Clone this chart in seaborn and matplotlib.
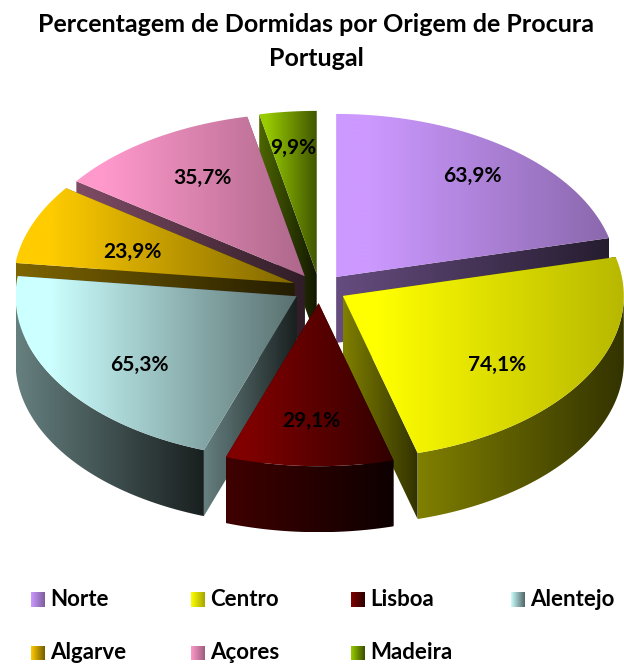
import numpy as np
import matplotlib
matplotlib.use("Agg")
import matplotlib.pyplot as plt
from matplotlib.patches import Polygon
import seaborn as sns

# ---- data -------------------------------------------------------------
TITLE = ["Percentagem de Dormidas por Origem de Procura", "Portugal"]
categories = ["Norte", "Centro", "Lisboa", "Alentejo", "Algarve", "Açores", "Madeira"]
values = [63.9, 74.1, 29.1, 65.3, 23.9, 35.7, 9.9]
base_colors = ["#CC99FF", "#FFFF00", "#800000", "#CCFFFF", "#FFCC00", "#FF99CC", "#99CC00"]

# ---- style / layout ---------------------------------------------------
top_end = [0.68, 0.72, 0.38, 0.44, 0.50, 0.68, 0.42]
label_fx = [0.785, 0.636, 0.80, 0.66, 0.62, 0.666, 0.81]
label_fy = [0.787, 0.836, 0.72, 0.80, 0.53, 0.716, 0.777]
draw_order = [6, 5, 0, 4, 1, 3, 2]
CX, CY, RX, RY, DEPTH = 319.5, 288.5, 281, 163, 66
EX, EY = 27, 14.7
FONT = "Lato"

sns.set_theme(style="white")
plt.rcParams["font.family"] = [FONT, "DejaVu Sans"]

fig = plt.figure(figsize=(6.24, 6.64), dpi=100, facecolor="white")
ax = fig.add_axes([0, 0, 1, 1])
ax.set_axis_off()
ramp = np.linspace(0, 1, 256)
grad = ramp.reshape(1, -1)
grad_top = np.clip((ramp - 0.12) / 0.88, 0, 1).reshape(1, -1)


def shade(color, k):
    return tuple(c * k for c in matplotlib.colors.to_rgb(color))


def paint(points, c0, c1, zorder, g=grad):
    """Fill a polygon with a left-to-right gradient."""
    pts = np.asarray(points)
    x0, x1 = pts[:, 0].min(), pts[:, 0].max()
    y0, y1 = pts[:, 1].min(), pts[:, 1].max()
    if x1 - x0 < 0.01:
        return
    cmap = sns.blend_palette([c0, c1], as_cmap=True)
    im = ax.imshow(g, extent=[x0, x1, y1, y0], cmap=cmap, aspect="auto",
                   interpolation="bilinear", zorder=zorder, vmin=0, vmax=1)
    patch = Polygon(pts, closed=True, facecolor="none", edgecolor="none", zorder=zorder)
    ax.add_patch(patch)
    im.set_clip_path(patch)


total = sum(values)
angles = np.cumsum([0] + [v / total * 360 for v in values])
z = 1

for i in draw_order:
    a0, a1 = angles[i], angles[i + 1]
    mid = np.radians((a0 + a1) / 2)
    ax_x = CX + EX * np.sin(mid)
    ax_y = CY - EY * np.cos(mid)
    c = base_colors[i]
    wall0, wall1 = shade(c, 0.5), shade(c, 0.5 * top_end[i] * 0.55)

    th = np.radians(np.linspace(a0, a1, 120))
    rim_x = ax_x + RX * np.sin(th)
    rim_y = ax_y - RY * np.cos(th)
    top = np.column_stack([np.r_[ax_x, rim_x], np.r_[ax_y, rim_y]])

    # radial faces: the one reaching furthest forward goes last
    for idx in sorted((0, -1), key=lambda k: rim_y[k]):
        face = [(ax_x, ax_y), (rim_x[idx], rim_y[idx]),
                (rim_x[idx], rim_y[idx] + DEPTH), (ax_x, ax_y + DEPTH)]
        paint(face, wall0, wall1, z)
        z += 1

    # outer rim, front half only
    f0, f1 = max(a0, 90), min(a1, 270)
    if f1 > f0:
        tf = np.radians(np.linspace(f0, f1, 120))
        fx = ax_x + RX * np.sin(tf)
        fy = ax_y - RY * np.cos(tf)
        rim = np.column_stack([np.r_[fx, fx[::-1]], np.r_[fy, fy[::-1] + DEPTH]])
        paint(rim, wall0, wall1, z)
        z += 1

    # top face
    paint(top, c, shade(c, top_end[i]), z, grad_top)
    z += 1

# value labels
for i in range(len(values)):
    mid = np.radians((angles[i] + angles[i + 1]) / 2)
    ax_x = CX + EX * np.sin(mid)
    ax_y = CY - EY * np.cos(mid)
    ax.text(ax_x + label_fx[i] * RX * np.sin(mid), ax_y - label_fy[i] * RY * np.cos(mid),
            f"{values[i]:.1f}%".replace(".", ","), ha="center", va="center",
            fontsize=15.0, fontweight="bold", color="black", zorder=500)

# legend
leg_x = [31, 191, 351, 511]
leg_y = [599.5, 653]
for i, name in enumerate(categories):
    x = leg_x[i % 4]
    y = leg_y[i // 4]
    c = base_colors[i]
    paint([(x, y - 7.5), (x + 14, y - 7.5), (x + 14, y + 7.5), (x, y + 7.5)],
          c, shade(c, top_end[i] * 0.9), 600)
    ax.text(x + 19, y - 0.5, name, ha="left", va="center", fontsize=16.0,
            fontweight="bold", color="black", zorder=600)

# title
ax.text(316, 25, TITLE[0], ha="center", va="center", fontsize=18.0, fontweight="bold", color="black")
ax.text(316, 58, TITLE[1], ha="center", va="center", fontsize=18.0, fontweight="bold", color="black")

ax.set_xlim(0, 624)
ax.set_ylim(664, 0)
fig.savefig("out.png", dpi=100, facecolor="white")
